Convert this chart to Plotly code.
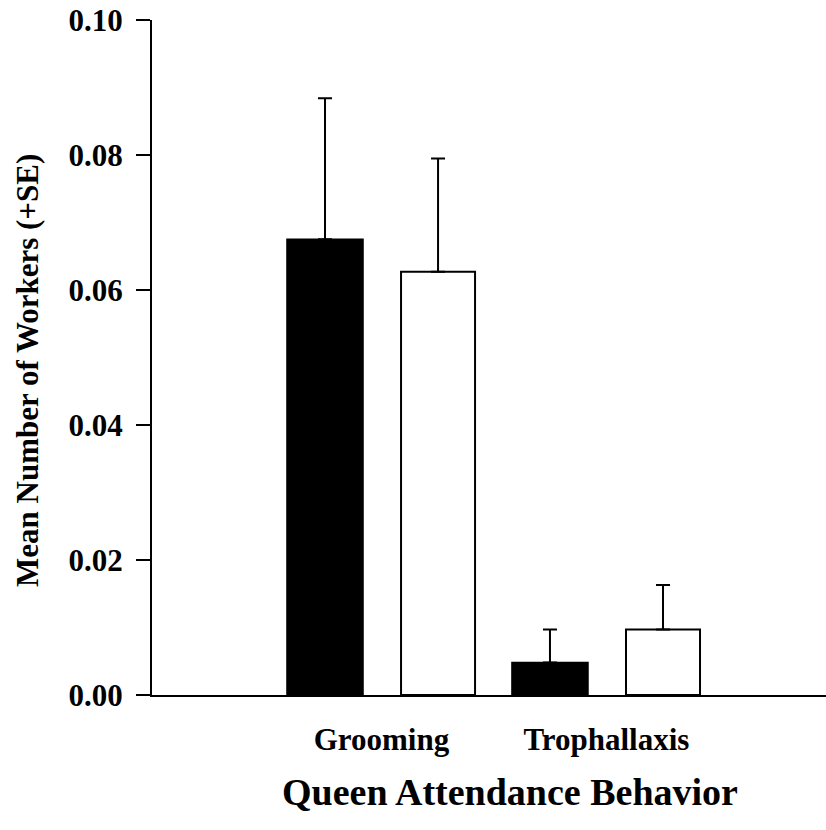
import plotly.graph_objects as go

categories = ["Grooming", "Trophallaxis"]
black_means = [0.0675, 0.0048]
black_se = [0.0209, 0.0049]
white_means = [0.0627, 0.0097]
white_se = [0.0168, 0.0066]
y_ticks = [0.00, 0.02, 0.04, 0.06, 0.08, 0.10]
y_tick_labels = ["0.00", "0.02", "0.04", "0.06", "0.08", "0.10"]

FONT = "Liberation Serif"

fig = go.Figure()
fig.add_trace(go.Bar(
    x=categories, y=black_means, offset=-0.42, width=0.338,
    marker=dict(color="black", line=dict(color="black", width=1.5)),
    error_y=dict(type="data", array=black_se, symmetric=False, arrayminus=[0, 0],
                 color="black", thickness=2, width=7),
    showlegend=False,
))
fig.add_trace(go.Bar(
    x=categories, y=white_means, offset=0.087, width=0.329,
    marker=dict(color="white", line=dict(color="black", width=2)),
    error_y=dict(type="data", array=white_se, symmetric=False, arrayminus=[0, 0],
                 color="black", thickness=2, width=7),
    showlegend=False,
))

fig.add_annotation(
    text="Mean Number of Workers (+SE)", textangle=-90,
    xref="paper", yref="paper", x=0, y=0.48, xanchor="center", yanchor="middle",
    xshift=-125, showarrow=False,
    font=dict(family=FONT, size=31, weight="bold", color="black"),
)
fig.add_annotation(
    text="Queen Attendance Behavior",
    xref="paper", yref="paper", x=0, y=0, xanchor="center", yanchor="middle",
    xshift=358, yshift=-97, showarrow=False,
    font=dict(family=FONT, size=38, weight="bold", color="black"),
)

fig.update_layout(
    width=826, height=830,
    margin=dict(l=152, r=0, t=20, b=135, autoexpand=False),
    paper_bgcolor="white", plot_bgcolor="white",
    font=dict(family=FONT, color="black", weight="bold"),
    xaxis=dict(
        type="category", range=[-1.02, 1.976], automargin=False,
        showline=True, linecolor="black", linewidth=2,
        ticks="", showgrid=False, zeroline=False,
        tickfont=dict(family=FONT, size=31, weight="bold"),
        ticklabelstandoff=16,
    ),
    yaxis=dict(
        range=[0, 0.10], tickvals=y_ticks, ticktext=y_tick_labels, automargin=False,
        showline=True, linecolor="black", linewidth=2,
        ticks="outside", ticklen=14, tickwidth=2, tickcolor="black",
        showgrid=False, zeroline=False,
        tickfont=dict(family=FONT, size=31, weight="bold"),
        ticklabelstandoff=7, ticklabeloverflow="allow",
    ),
)

fig.write_html("out.html", config={"displayModeBar": False},
               post_script="document.body.style.margin='0';")
